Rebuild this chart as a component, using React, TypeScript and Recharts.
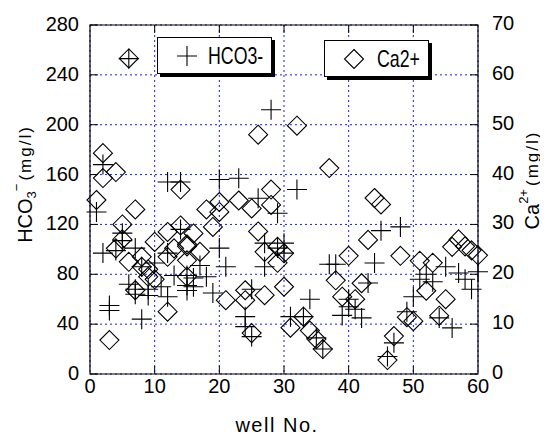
import { ScatterChart, Scatter, XAxis, YAxis, CartesianGrid, ReferenceArea } from "recharts";

// HCO3- (mg/l) by well No.
const hco3Wells = [
  1, 2, 2, 3, 3, 4, 5, 5, 6, 6, 7, 7, 7, 8, 8, 9, 9, 10, 11, 12, 12, 12, 13, 14, 14, 15, 15, 15,
  16, 16, 17, 18, 19, 20, 20, 21, 23, 24, 24, 25, 25, 26, 27, 27, 28, 29, 29, 30, 30, 31, 32, 33,
  34, 35, 36, 37, 38, 39, 40, 40, 41, 42, 43, 44, 45, 46, 47, 48, 49, 50, 51, 52, 53, 54, 55,
  56, 57, 58, 59, 60
];
const hco3Values = [
  130, 168, 97, 55, 51, 99, 113, 107, 253, 72, 101, 68, 64, 44, 86, 68, 63, 89, 70, 154, 97, 62,
  79, 154, 116, 79, 71, 67, 70, 77, 87, 78, 65, 156, 101, 86, 157, 46, 38, 30, 68, 141, 105, 86,
  212, 129, 101, 105, 97, 46, 148, 46, 60, 29, 20, 88, 88, 47, 60, 54, 52, 45, 73, 89, 115, 14,
  25, 118, 50, 62, 76, 80, 74, 45, 86, 37, 81, 76, 68, 82
];

// Ca2+ (mg/l) by well No.
const caWells = [
  1, 2, 2, 3, 4, 4, 5, 5, 6, 6, 7, 7, 8, 8, 9, 9, 10, 10, 12, 12, 12, 13, 14, 14, 15, 15, 15, 15,
  16, 17, 18, 19, 20, 20, 21, 23, 24, 24, 25, 25, 26, 26, 27, 27, 28, 28, 29, 29, 30, 30, 31, 32,
  33, 34, 35, 36, 37, 38, 39, 40, 41, 42, 43, 44, 45, 46, 47, 48, 49, 50, 51, 52, 53, 54, 55, 56,
  57, 58, 59, 60
];
const caValues = [
  34.9, 44.3, 39.3, 6.8, 40.5, 25.2, 30, 27, 63.3, 22.5, 33, 16.8, 23.5, 21.5, 19.5, 21, 26.5,
  19, 28.5, 12.5, 23.5, 25.2, 29.8, 37, 26, 25.6, 19.5, 22.8, 28.2, 24.5, 33, 29.5, 34.5, 32.5,
  14.8, 34.8, 16.8, 14.8, 8.2, 33.2, 48, 28.6, 15.8, 24.5, 37, 33.9, 25.5, 22.3, 24.2, 17.5, 9.3,
  49.8, 11.5, 8.7, 7, 5, 41.3, 18.8, 15.5, 23.7, 15, 18.2, 26.9, 35.3, 34, 2.8, 7.6, 23.7, 11.4,
  10.6, 22.7, 16.7, 22.3, 11.7, 15, 25.5, 27, 25.6, 24.8, 23.8
];

const xTicks = [0, 10, 20, 30, 40, 50, 60];
const leftTicks = [0, 40, 80, 120, 160, 200, 240, 280];
const rightTicks = [0, 10, 20, 30, 40, 50, 60, 70];
const seriesNames = ["HCO3-", "Ca2+"];

const hco3Data = hco3Wells.map((w, i) => ({ well: w, value: hco3Values[i] }));
const caData = caWells.map((w, i) => ({ well: w, value: caValues[i] }));

const FONT = '"Liberation Sans", Arial, sans-serif';
const PLOT_TOP = 17;
const TICK_LEN = 8;

function PlusShape(props: any) {
  const { cx, cy } = props;
  if (cx == null || cy == null) return null;
  return (
    <path
      d={`M${cx - 10},${cy}H${cx + 10}M${cx},${cy - 10}V${cy + 10}`}
      stroke="#000"
      strokeWidth={1.1}
      fill="none"
    />
  );
}

function DiamondShape(props: any) {
  const { cx, cy } = props;
  if (cx == null || cy == null) return null;
  const r = 9.5;
  return (
    <path
      d={`M${cx},${cy - r}L${cx + r},${cy}L${cx},${cy + r}L${cx - r},${cy}Z`}
      stroke="#000"
      strokeWidth={1.1}
      fill="none"
    />
  );
}

function BottomTick(props: any) {
  const { x, y, payload } = props;
  const axisY = y - 5;
  const inner = payload.value !== 0 && payload.value !== 60;
  return (
    <g>
      {inner && <line x1={x} x2={x} y1={axisY} y2={axisY - TICK_LEN} stroke="#000" />}
      {inner && <line x1={x} x2={x} y1={PLOT_TOP} y2={PLOT_TOP + TICK_LEN} stroke="#000" />}
      <text x={x} y={y} dy="0.72em" textAnchor="middle" fontSize={20} fontFamily={FONT} fill="#000">
        {payload.value}
      </text>
    </g>
  );
}

function LeftTick(props: any) {
  const { x, y, payload } = props;
  const axisX = x + 11;
  return (
    <g>
      <line x1={axisX} x2={axisX + TICK_LEN} y1={y} y2={y} stroke="#000" />
      <text x={x} y={y - 1} dy="0.35em" textAnchor="end" fontSize={20} fontFamily={FONT} fill="#000">
        {payload.value}
      </text>
    </g>
  );
}

function RightTick(props: any) {
  const { x, y, payload } = props;
  const axisX = x - 14;
  return (
    <g>
      <line x1={axisX} x2={axisX - TICK_LEN} y1={y} y2={y} stroke="#000" />
      <text x={x} y={y - 2} dy="0.35em" textAnchor="start" fontSize={20} fontFamily={FONT} fill="#000">
        {payload.value}
      </text>
    </g>
  );
}

function LeftLabel() {
  const cx = 17;
  const cy = 176;
  return (
    <text
      x={cx}
      y={cy}
      transform={`rotate(-90, ${cx}, ${cy})`}
      textAnchor="middle"
      dominantBaseline="central"
      fontFamily={FONT}
      fontSize={20}
      fill="#000"
    >
      HCO
      <tspan fontSize={13} dy={6}>3</tspan>
      <tspan fontSize={13} dy={-15}>−</tspan>
      <tspan fontSize={17} dy={9} dx={3} letterSpacing={2}>(mg/l)</tspan>
    </text>
  );
}

function RightLabel() {
  const cx = 524;
  const cy = 172;
  return (
    <text
      x={cx}
      y={cy}
      transform={`rotate(-90, ${cx}, ${cy})`}
      textAnchor="middle"
      dominantBaseline="central"
      fontFamily={FONT}
      fontSize={20}
      fill="#000"
    >
      Ca
      <tspan fontSize={13} dy={-9}>2+</tspan>
      <tspan fontSize={17} dy={9} dx={3} letterSpacing={2}>(mg/l)</tspan>
    </text>
  );
}

function XLabel() {
  return (
    <text x={269} y={417} dy="0.35em" textAnchor="middle" fontFamily={FONT} fontSize={20} letterSpacing={1.5} fill="#000">
      well No.
    </text>
  );
}

const legendBox = {
  position: "absolute" as const,
  height: 35,
  border: "1px solid #000",
  background: "#fff",
  boxShadow: "3px 3px 0 #000",
  display: "flex",
  alignItems: "center",
  fontFamily: FONT,
  fontSize: 24,
  color: "#000",
  whiteSpace: "nowrap" as const
};

const legendText = {
  display: "inline-block",
  transform: "scaleX(0.74)",
  transformOrigin: "left center"
};

export default function App() {
  return (
    <div style={{ position: "relative", width: 540, height: 428 }}>
      <ScatterChart width={540} height={428} margin={{ top: 17, right: 20, bottom: 22, left: 22 }}>
        <CartesianGrid yAxisId="left" stroke="#1a1aff" strokeDasharray="2 3" />
        <ReferenceArea
          yAxisId="left"
          x1={0}
          x2={60}
          y1={0}
          y2={280}
          fill="none"
          stroke="#000"
          strokeWidth={1.2}
          fillOpacity={0}
        />
        <XAxis
          type="number"
          dataKey="well"
          domain={[0, 60]}
          ticks={xTicks}
          height={40}
          axisLine={false}
          tickLine={false}
          tickSize={0}
          tickMargin={5}
          tick={<BottomTick />}
          interval={0}
        />
        <YAxis
          yAxisId="left"
          type="number"
          dataKey="value"
          domain={[0, 280]}
          ticks={leftTicks}
          width={60}
          axisLine={false}
          tickLine={false}
          tickSize={0}
          tickMargin={11}
          tick={<LeftTick />}
          interval={0}
        />
        <YAxis
          yAxisId="right"
          orientation="right"
          type="number"
          dataKey="value"
          domain={[0, 70]}
          ticks={rightTicks}
          width={50}
          axisLine={false}
          tickLine={false}
          tickSize={0}
          tickMargin={14}
          tick={<RightTick />}
          interval={0}
        />
        <Scatter
          name={seriesNames[0]}
          yAxisId="left"
          data={hco3Data}
          shape={<PlusShape />}
          isAnimationActive={false}
        />
        <Scatter
          name={seriesNames[1]}
          yAxisId="right"
          data={caData}
          shape={<DiamondShape />}
          isAnimationActive={false}
        />
        <LeftLabel />
        <RightLabel />
        <XLabel />
      </ScatterChart>
      <div style={{ ...legendBox, left: 149, top: 29, width: 113 }}>
        <svg width={50} height={35} style={{ flex: "none" }}>
          <path d="M19,18H39M29,8V28" stroke="#000" strokeWidth={1.1} fill="none" />
        </svg>
        <span style={legendText}>{seriesNames[0]}</span>
      </div>
      <div style={{ ...legendBox, left: 316, top: 32, width: 103 }}>
        <svg width={52} height={35} style={{ flex: "none" }}>
          <path d="M29,8.5L38.5,18L29,27.5L19.5,18Z" stroke="#000" strokeWidth={1.1} fill="none" />
        </svg>
        <span style={legendText}>{seriesNames[1]}</span>
      </div>
    </div>
  );
}
